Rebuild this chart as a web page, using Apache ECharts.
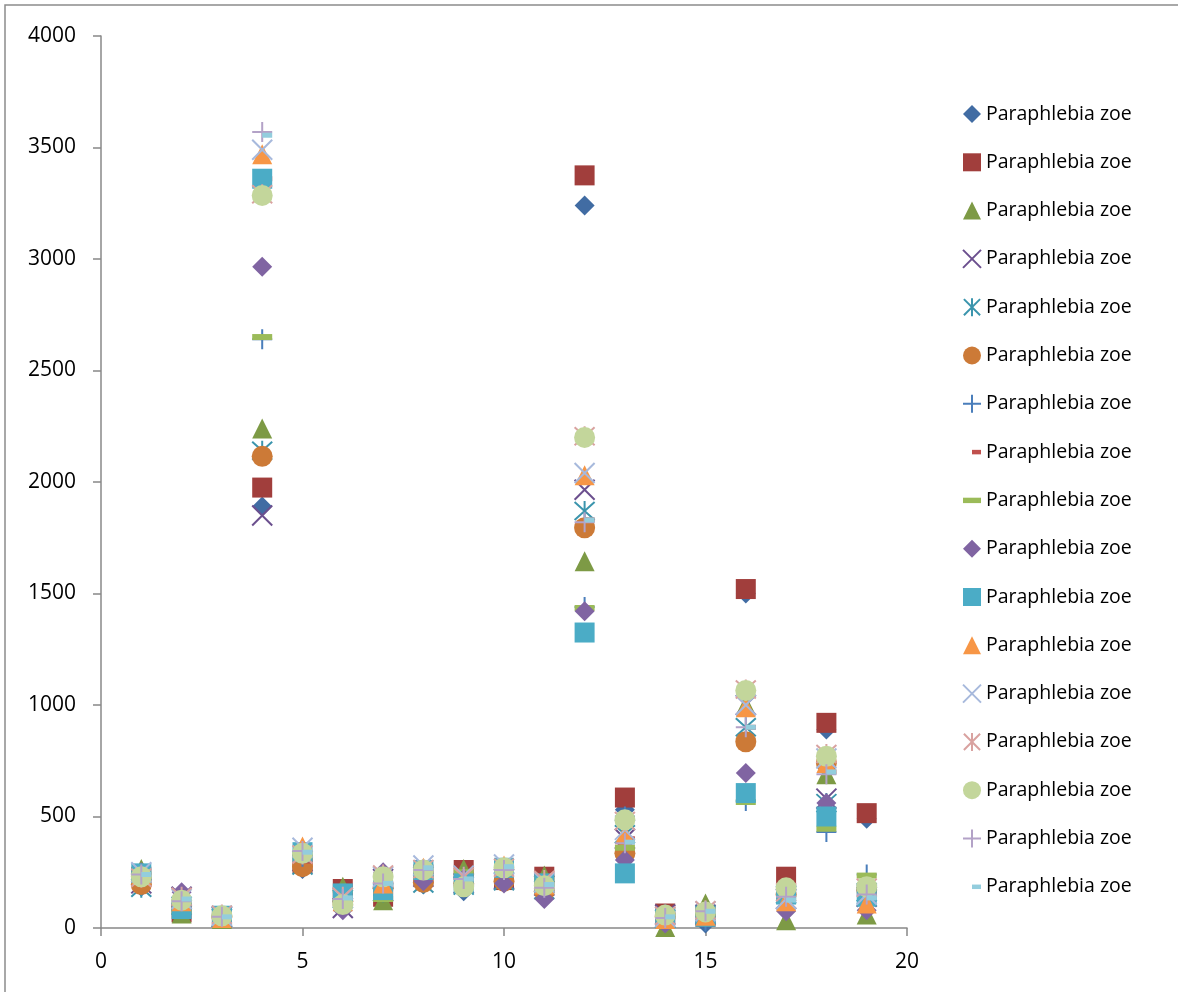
<!DOCTYPE html>
<html>
<head>
<meta charset="utf-8">
<script src="https://cdn.jsdelivr.net/npm/echarts@6/dist/echarts.min.js"></script>
<style>
html,body{margin:0;padding:0;background:#fff;}
#chart{width:1178px;height:992px;}
</style>
</head>
<body>
<div id="chart"></div>
<script>
// ---- data ----
const xValues = [1, 2, 3, 4, 5, 6, 7, 8, 9, 10, 11, 12, 13, 14, 15, 16, 17, 18, 19];
const seriesName = 'Paraphlebia zoe';

const s1  = [185, 80, 40, 1890, 265, 100, 150, 195, 165, 205, 160, 3240, 530, 50, 20, 1500, 140, 890, 490];
const s2  = [230, 70, 45, 1975, 290, 175, 140, 240, 260, 215, 230, 3375, 585, 65, 50, 1520, 230, 920, 515];
const s3  = [265, 65, 40, 2240, 320, 185, 125, 250, 265, 240, 235, 1645, 380, 5, 110, 1000, 35, 690, 60];
const s4  = [200, 140, 50, 1850, 300, 90, 220, 230, 200, 220, 190, 1965, 400, 60, 60, 1000, 130, 580, 140];
const s5  = [180, 100, 45, 2140, 280, 130, 160, 200, 190, 210, 170, 1870, 420, 40, 60, 900, 150, 560, 160];
const s6  = [195, 90, 50, 2115, 275, 120, 180, 205, 200, 210, 165, 1795, 335, 50, 70, 835, 150, 740, 170];
const s7  = [230, 110, 55, 2640, 320, 120, 200, 240, 230, 250, 190, 1440, 500, 60, 30, 570, 170, 430, 240];
const s8  = [220, 100, 60, 3360, 300, 150, 200, 250, 240, 250, 200, 1830, 400, 60, 60, 900, 150, 700, 150];
const s9  = [240, 75, 55, 2650, 320, 170, 130, 230, 250, 240, 220, 1435, 360, 55, 65, 565, 140, 445, 235];
const s10 = [250, 160, 45, 2965, 330, 80, 250, 210, 220, 200, 130, 1420, 305, 20, 50, 695, 75, 560, 80];
const s11 = [245, 85, 55, 3360, 340, 155, 170, 260, 200, 270, 200, 1325, 245, 45, 50, 605, 150, 500, 140];
const s12 = [240, 120, 45, 3470, 365, 120, 200, 270, 215, 280, 195, 2030, 420, 40, 55, 990, 120, 740, 110];
const s13 = [250, 130, 55, 3490, 360, 135, 230, 280, 235, 285, 205, 2040, 440, 50, 75, 1000, 130, 760, 150];
const s14 = [225, 140, 60, 3290, 330, 140, 240, 265, 230, 270, 215, 2205, 480, 55, 80, 1070, 160, 780, 180];
const s15 = [230, 125, 55, 3285, 335, 105, 230, 260, 185, 270, 190, 2200, 485, 58, 72, 1065, 180, 770, 185];
const s16 = [240, 120, 50, 3570, 345, 130, 200, 260, 220, 260, 180, 1820, 380, 45, 75, 900, 140, 690, 150];
const s17 = [240, 130, 50, 3555, 340, 135, 200, 270, 220, 275, 195, 1830, 385, 50, 75, 900, 125, 700, 135];

const allSeries = [s1, s2, s3, s4, s5, s6, s7, s8, s9, s10, s11, s12, s13, s14, s15, s16, s17];

// ---- marker styles ----
const P_DIAMOND = 'path://M10,0L20,10L10,20L0,10Z';
const P_SQUARE = 'path://M0,0h20v20h-20Z';
const P_TRIANGLE = 'path://M10,0L20,20L0,20Z';
const P_CIRCLE = 'circle';
const P_X = 'path://M1,1L19,19M19,1L1,19';
const P_STAR = 'path://M1,1L19,19M19,1L1,19M10,0L10,20';
const P_PLUS = 'path://M10,0L10,20M0,10L20,10';
const P_SDASH = 'path://M0,0M20,20M10,7.5h10v5h-10Z';
const P_LDASH = 'path://M0,0M20,20M0,7h20v6h-20Z';

const markers = [
  {sym: P_DIAMOND, fill: '#416ca3'},
  {sym: P_SQUARE, fill: '#a13e3c'},
  {sym: P_TRIANGLE, fill: '#7d9a45'},
  {sym: P_X, stroke: '#6b4f8e'},
  {sym: P_STAR, stroke: '#3b95ad'},
  {sym: P_CIRCLE, fill: '#cc7a37'},
  {sym: P_PLUS, stroke: '#4a7ebb'},
  {sym: P_SDASH, fill: '#c0504d'},
  {sym: P_LDASH, fill: '#9bbb59'},
  {sym: P_DIAMOND, fill: '#8064a2'},
  {sym: P_SQUARE, fill: '#4bacc6'},
  {sym: P_TRIANGLE, fill: '#f79646'},
  {sym: P_X, stroke: '#a7b9dc'},
  {sym: P_STAR, stroke: '#d9a2a0'},
  {sym: P_CIRCLE, fill: '#c3d69b'},
  {sym: P_PLUS, stroke: '#b3a2c7'},
  {sym: P_SDASH, fill: '#93cddd'}
];

const series = allSeries.map(function (vals, i) {
  const m = markers[i];
  const itemStyle = m.stroke
    ? {color: 'rgba(0,0,0,0)', borderColor: m.stroke, borderWidth: 2, opacity: 1}
    : {color: m.fill, borderWidth: 0, opacity: 1};
  return {
    type: 'scatter',
    name: 's' + (i + 1),
    symbol: m.sym,
    symbolSize: m.sym === P_CIRCLE ? 21 : 20,
    itemStyle: itemStyle,
    emphasis: {disabled: true},
    data: xValues.map(function (x, k) { return [x, vals[k]]; })
  };
});

const chart = echarts.init(document.getElementById('chart'), null, {renderer: 'canvas'});
chart.setOption({
  animation: false,
  backgroundColor: '#ffffff',
  textStyle: {fontFamily: 'Open Sans'},
  grid: {left: 101, right: 271, top: 36, bottom: 64, containLabel: false},
  xAxis: {
    type: 'value', min: 0, max: 20, interval: 5,
    axisLine: {show: true, lineStyle: {color: '#888888', width: 1.5}},
    axisTick: {show: true, length: 8, lineStyle: {color: '#888888', width: 1.5}},
    axisLabel: {color: '#000', fontSize: 21, margin: 24, fontFamily: 'Open Sans',
      formatter: function (v) { return String(v); }},
    splitLine: {show: false}
  },
  yAxis: {
    type: 'value', min: 0, max: 4000, interval: 500,
    axisLine: {show: true, lineStyle: {color: '#888888', width: 1.5}},
    axisTick: {show: true, length: 8, lineStyle: {color: '#888888', width: 1.5}},
    axisLabel: {color: '#000', fontSize: 21, margin: 25, fontFamily: 'Open Sans',
      formatter: function (v) { return String(v); }},
    splitLine: {show: false}
  },
  legend: {
    orient: 'vertical',
    left: 957,
    top: 98,
    itemWidth: 18,
    itemHeight: 18,
    itemGap: 26.3,
    selectedMode: false,
    formatter: function () { return seriesName; },
    textStyle: {color: '#000', fontSize: 19.5, lineHeight: 22, fontFamily: 'Open Sans'},
    data: series.map(function (s) { return s.name; })
  },
  graphic: [{
    type: 'rect',
    shape: {x: 5, y: 5, width: 1300, height: 1100},
    style: {fill: 'none', stroke: '#8c8c8c', lineWidth: 1.5},
    silent: true
  }],
  series: series
});
</script>
</body>
</html>
